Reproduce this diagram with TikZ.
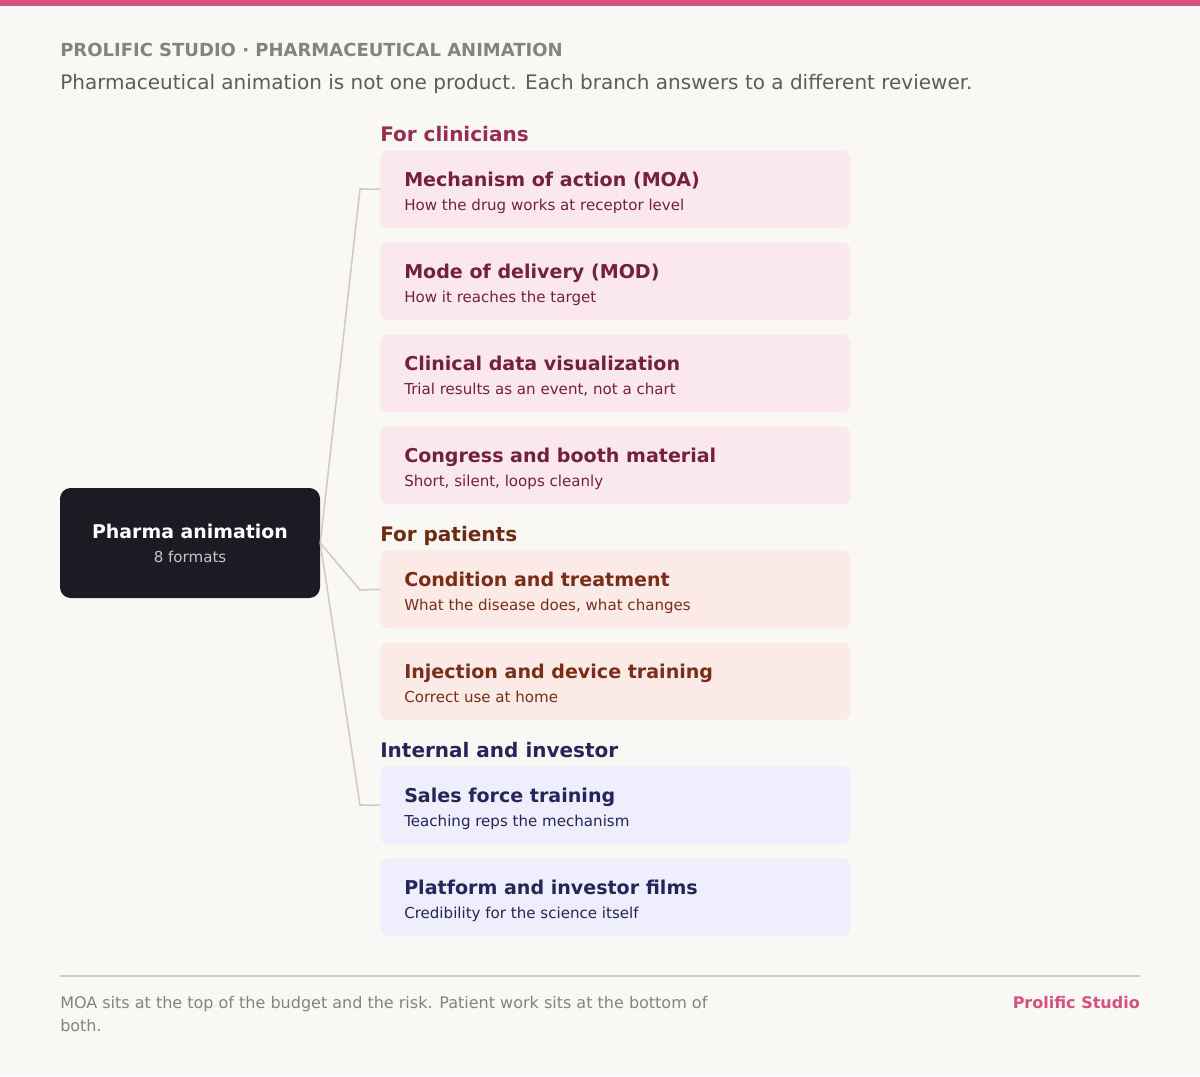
\documentclass[tikz,border=0pt]{standalone}
\usepackage{fontspec}
\setmainfont{DejaVu Sans}
\definecolor{bg}{HTML}{F9F8F4}
\definecolor{pink}{HTML}{D6517F}
\definecolor{cfill}{HTML}{FBE8EE}\definecolor{ctext}{HTML}{74203F}\definecolor{chead}{HTML}{9A2C52}
\definecolor{pfill}{HTML}{FBEAE5}\definecolor{ptext}{HTML}{7A2E18}\definecolor{phead}{HTML}{6E2A12}
\definecolor{ifill}{HTML}{EEEEFC}\definecolor{itext}{HTML}{28245A}\definecolor{ihead}{HTML}{28245A}
\definecolor{dark}{HTML}{1B1B24}\definecolor{conn}{HTML}{D0CCC2}\definecolor{gtxt}{HTML}{85837D}
\definecolor{sub}{HTML}{5E5C57}
\begin{document}
\begin{tikzpicture}[x=0.75pt,y=-0.75pt,every node/.style={inner sep=0pt},
  box/.style={rounded corners=6pt,draw=none,minimum width=352.5pt,minimum height=58.5pt,anchor=north west,inner sep=0pt},
  ttl/.style={anchor=base west,font=\fontsize{14.3}{16}\selectfont\bfseries},
  st/.style={anchor=base west,font=\fontsize{11.3}{13}\selectfont},
  hd/.style={anchor=base west,font=\fontsize{15}{17}\selectfont\bfseries},
  ft/.style={anchor=base west,text=gtxt,font=\fontsize{12}{14}\selectfont},
  cn/.style={draw=conn,line width=1.2pt}]
\fill[bg] (0,0) rectangle (1200,1076);
\fill[pink] (0,0) rectangle (1200,6);
\useasboundingbox (0,0) rectangle (1200,1076);
\node[anchor=base west,text=gtxt,font=\fontsize{13.5}{15}\selectfont\bfseries] (t) at (60,56) {PROLIFIC STUDIO · PHARMACEUTICAL ANIMATION};
\node[anchor=base west,text=sub,font=\fontsize{15}{17}\selectfont] (s) at (60,89) {Pharmaceutical animation is not one product. Each branch answers to a different reviewer.};
\node[fill=dark,rounded corners=8pt,minimum width=195pt,minimum height=82.5pt,inner sep=0pt] (c) at (190,543) {};
\node[anchor=base,text=white,font=\fontsize{14.2}{16}\selectfont\bfseries] (c1) at (190,538) {Pharma animation};
\node[anchor=base,text=white!75!dark,font=\fontsize{11.3}{13}\selectfont] (c2) at (190,562) {8 formats};
\node[hd,text=chead] (h1) at (380,141) {For clinicians};
\node[hd,text=phead] (h2) at (380,541) {For patients};
\node[hd,text=ihead] (h3) at (380,757) {Internal and investor};
\foreach \n/\y/\f/\tc/\a/\b in {
 b1/150/cfill/ctext/Mechanism of action (MOA)/How the drug works at receptor level,
 b2/242/cfill/ctext/Mode of delivery (MOD)/How it reaches the target,
 b3/334/cfill/ctext/Clinical data visualization/{Trial results as an event, not a chart},
 b4/426/cfill/ctext/Congress and booth material/{Short, silent, loops cleanly},
 b5/550/pfill/ptext/Condition and treatment/{What the disease does, what changes},
 b6/642/pfill/ptext/Injection and device training/Correct use at home,
 b7/766/ifill/itext/Sales force training/Teaching reps the mechanism,
 b8/858/ifill/itext/Platform and investor films/Credibility for the science itself}{
 \node[box,fill=\f] (\n) at (380,\y) {};
 \node[ttl,text=\tc] (\n t) at (404,\y+36) {\a};
 \node[st,text=\tc] (\n s) at (404,\y+60) {\b};
}
\coordinate (k1) at (360,189);\coordinate (k2) at (360,590);\coordinate (k3) at (360,805);
\draw[cn] (c.east) -- (k1) -- (b1.west);
\draw[cn] (c.east) -- (k2) -- (b5.west);
\draw[cn] (c.east) -- (k3) -- (b7.west);
\draw[conn,line width=0.8pt] (60,976) -- (1140,976);
\node[ft] (f1) at (60,1008) {MOA sits at the top of the budget and the risk. Patient work sits at the bottom of};
\node[ft] (f2) at (60,1031) {both.};
\node[anchor=base east,text=pink,font=\fontsize{12}{14}\selectfont\bfseries] (p) at (1140,1008) {Prolific Studio};
\end{tikzpicture}
\end{document}
